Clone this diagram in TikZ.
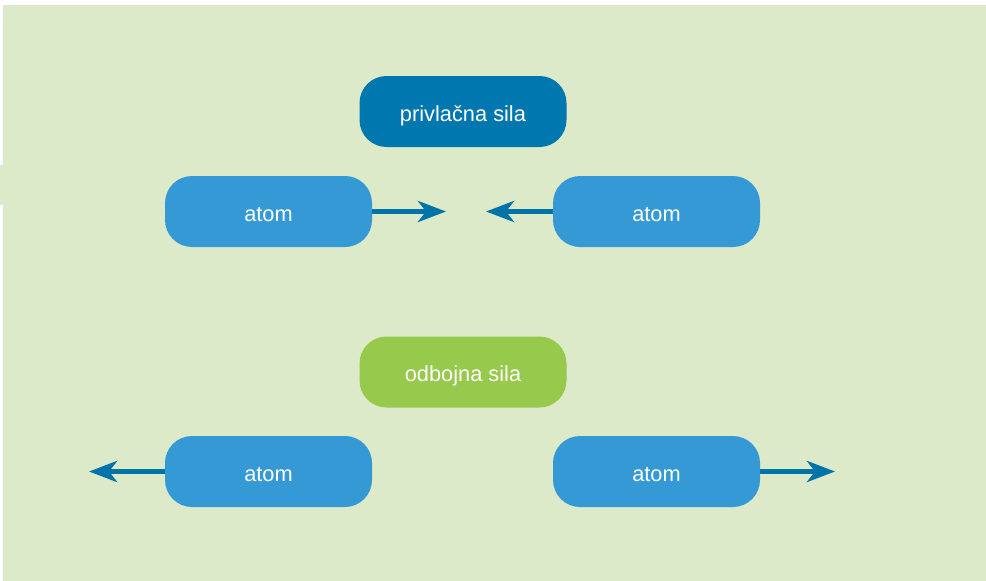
\documentclass[tikz,border=0pt]{standalone}
\usepackage{fontspec}
\setmainfont{Liberation Sans}
\usetikzlibrary{arrows.meta}
\definecolor{bgc}{HTML}{DCEAC9}
\definecolor{atomc}{HTML}{3599D6}
\definecolor{darkc}{HTML}{0077AE}
\definecolor{greenc}{HTML}{97C94D}
\definecolor{arrc}{HTML}{0073A8}
\tikzset{
  pill/.style={rounded corners=27pt, minimum width=207pt, minimum height=71pt, inner sep=0pt,
    text=white, text height=22pt, text depth=3pt, font=\fontsize{21.8}{24}\selectfont},
  atombox/.style={pill, fill=atomc},
  forcearr/.style={draw=arrc, line width=5pt, -{Stealth[length=28pt,width=21pt,inset=8pt]}},
}
\begin{document}
\begin{tikzpicture}[x=1pt,y=-1pt]
\useasboundingbox (0,0) rectangle (986,581);
\fill[white] (0,0) rectangle (986,581);
\fill[bgc] (3,5) rectangle (986,581);
\fill[bgc] (0,165) rectangle (3,205);
\node[pill, fill=darkc] (priv) at (463,111.5) {privlačna sila};
\node[atombox] (a1) at (268.5,211.5) {atom\hspace{8pt}};
\node[atombox] (a2) at (656.5,211.5) {atom\hspace{8pt}};
\node[pill, fill=greenc] (odb) at (463,372) {odbojna sila};
\node[atombox] (a3) at (268.5,471.5) {atom\hspace{8pt}};
\node[atombox] (a4) at (656.5,471.5) {atom\hspace{8pt}};
\coordinate (t1) at (446,211.5);
\coordinate (t2) at (486,211.5);
\coordinate (t3) at (89,471.5);
\coordinate (t4) at (835,471.5);
\draw[forcearr] (a1.east) -- (t1);
\draw[forcearr] (a2.west) -- (t2);
\draw[forcearr] (a3.west) -- (t3);
\draw[forcearr] (a4.east) -- (t4);
\end{tikzpicture}
\end{document}
